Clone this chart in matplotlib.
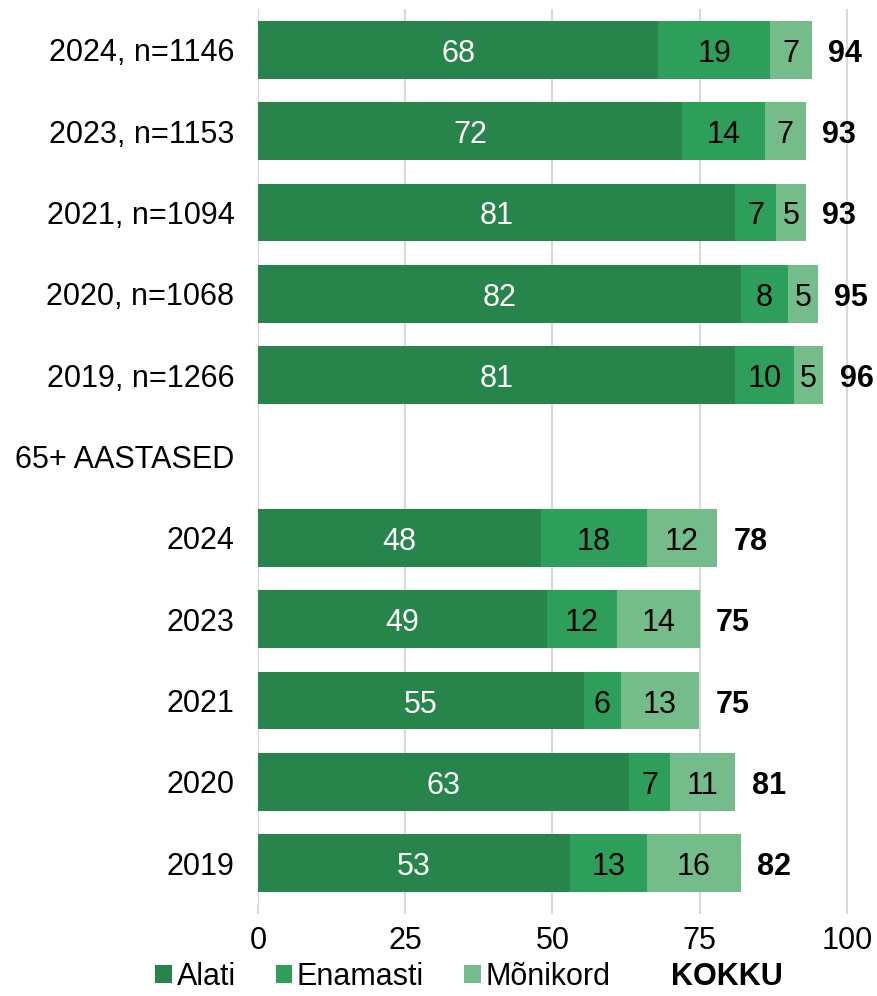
import matplotlib.pyplot as plt
from matplotlib.patches import Patch

# values (row "65+ AASTASED" is a header with no bar)
labels = ["2024, n=1146", "2023, n=1153", "2021, n=1094", "2020, n=1068", "2019, n=1266",
          "65+ AASTASED", "2024", "2023", "2021", "2020", "2019"]
alati = [68, 72, 81, 82, 81, None, 48, 49, 55.3, 63, 53]
enamasti = [19, 14, 7, 8, 10, None, 18, 12, 6.3, 7, 13]
monikord = [7, 7, 5, 5, 5, None, 12, 14, 13.3, 11, 16]
kokku = [94, 93, 93, 95, 96, None, 78, 75, 75, 81, 82]

series_names = ["Alati", "Enamasti", "Mõnikord"]
colors = ["#27854c", "#2e9e5b", "#74bc8a"]
text_colors = ["white", "black", "black"]

plt.rcParams["font.family"] = ["Liberation Sans", "DejaVu Sans"]
FS = 22

fig = plt.figure(figsize=(8.77, 9.96), dpi=100)
ax = fig.add_axes([258 / 877, 92 / 996, (877 - 258) / 877, (987 - 92) / 996])

rows = range(len(labels))
for i in rows:
    if alati[i] is None:
        continue
    left = 0
    for vals, col, tc in zip([alati, enamasti, monikord], colors, text_colors):
        v = vals[i]
        ax.barh(i, v, left=left, height=0.71, color=col, zorder=2)
        ax.text(left + v / 2, i + 0.05, f"{v:.0f}", ha="center", va="center",
                color=tc, fontsize=FS, zorder=3)
        left += v
    ax.text(left + 2.8, i + 0.05, str(kokku[i]), ha="left", va="center",
            fontsize=FS, fontweight="bold", zorder=3)

ax.set_ylim(len(labels) - 0.5, -0.5)
ax.set_xlim(0, 105.1)
ax.set_yticks(list(rows))
ax.set_yticklabels(labels, fontsize=FS)
ax.tick_params(axis="y", length=0, pad=17)
ax.set_xticks([0, 25, 50, 75, 100])
ax.tick_params(axis="x", length=7, width=1.5, color="#d9d9d9", labelsize=FS, pad=9)
ax.grid(axis="x", color="#d9d9d9", linewidth=1.5, zorder=0)
for s in ax.spines.values():
    s.set_visible(False)

handles = [Patch(facecolor=c, edgecolor="none") for c in colors]
handles.append(Patch(facecolor="none", edgecolor="none"))
leg = fig.legend(handles, series_names + ["KOKKU"], loc="center",
                 bbox_to_anchor=(0.535, 19 / 996), ncol=4, borderpad=0,
                 frameon=False, fontsize=FS, handlelength=0.55, handleheight=0.55,
                 handletextpad=0.15, columnspacing=1.3)
leg.get_texts()[-1].set_fontweight("bold")

fig.savefig("out.png", dpi=100)
